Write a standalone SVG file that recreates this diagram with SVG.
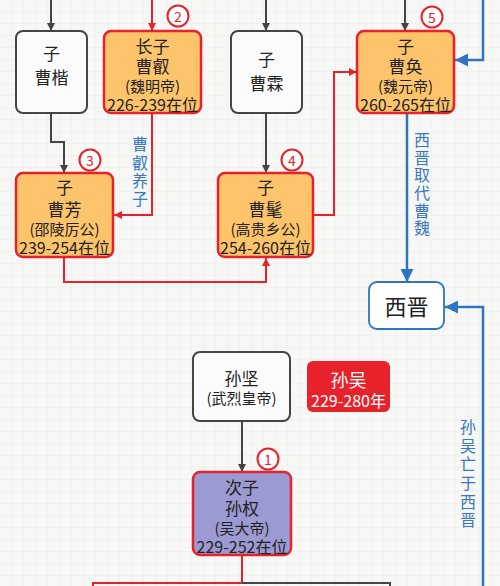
<svg xmlns="http://www.w3.org/2000/svg" width="500" height="586" viewBox="0 0 500 586">
<defs>
<pattern id="grid" width="12" height="12" patternUnits="userSpaceOnUse">
<rect width="12" height="12" fill="#f7f7f5"/>
<path d="M12,0 V12 M0,12 H12" stroke="#e9e9e6" stroke-width="0.8" fill="none"/>
</pattern>
<marker id="ag" viewBox="0 0 10 10" refX="10" refY="5" markerWidth="9" markerHeight="8" markerUnits="userSpaceOnUse" orient="auto"><path d="M0,0 L10,5 L0,10 Z" fill="#444"/></marker>
<marker id="ar" viewBox="0 0 10 10" refX="10" refY="5" markerWidth="9" markerHeight="8" markerUnits="userSpaceOnUse" orient="auto"><path d="M0,0 L10,5 L0,10 Z" fill="#e8222b"/></marker>
<marker id="ab" viewBox="0 0 10 10" refX="10" refY="5" markerWidth="14" markerHeight="13" markerUnits="userSpaceOnUse" orient="auto"><path d="M0,0 L10,5 L0,10 Z" fill="#2f74c0"/></marker>
<style>
text{font-family:"Noto Sans CJK SC","Noto Sans",sans-serif;text-anchor:middle;dominant-baseline:central;fill:#222}
.gbox{fill:#fbfbfb;stroke:#444;stroke-width:2}
.obox{fill:#fdc46b;stroke:#e8222b;stroke-width:2.5}
.pbox{fill:#9c9ad2;stroke:#e8222b;stroke-width:2.5}
.big{font-size:17px}
.sm{font-size:15px}
.yr{font-size:16px}
.num{fill:#fff;stroke:#e8222b;stroke-width:2}
.numt{font-size:14px;fill:#e8222b}
.g{fill:none;stroke:#444;stroke-width:2}
.r{fill:none;stroke:#e8222b;stroke-width:2}
.b{fill:none;stroke:#2f74c0;stroke-width:2.5}
.lbl{font-size:16px;fill:#3a78c0;writing-mode:vertical-rl}
</style>
</defs>
<rect width="500" height="586" fill="url(#grid)"/>

<g id="connectors">
<path class="g" d="M51,0 V31" marker-end="url(#ag)"/>
<path class="r" d="M152,0 V31" marker-end="url(#ar)"/>
<path class="g" d="M266,0 V31" marker-end="url(#ag)"/>
<path class="g" d="M405,0 V31" marker-end="url(#ag)"/>
<path class="b" d="M483,0 V60 H455" marker-end="url(#ab)"/>
<path class="r" d="M152,113 V215 H114" marker-end="url(#ar)"/>
<path class="g" d="M51,113 V142 H64 V173" marker-end="url(#ag)"/>
<path class="g" d="M266,113 V173" marker-end="url(#ag)"/>
<path class="r" d="M64,257 V282 H266 V258" marker-end="url(#ar)"/>
<path class="r" d="M313,215 H334 V72 H357" marker-end="url(#ar)"/>
<path class="b" d="M407,113 V282" marker-end="url(#ab)"/>
<path class="b" d="M483,586 V307 H445" marker-end="url(#ab)"/>
<path class="g" d="M242,421 V472" marker-end="url(#ag)"/>
<path class="r" d="M242,555 V583 H93 V590"/>
<path class="g" d="M242,583 H390 V590"/>
<text class="lbl" x="140" y="173" letter-spacing="2.3">曹叡养子</text>
<text class="lbl" x="422" y="185" letter-spacing="1.6">西晋取代曹魏</text>
<text class="lbl" x="468" y="475" letter-spacing="2.6">孙吴亡于西晋</text>
</g>

<g id="caokai">
<rect class="gbox" x="16" y="31" width="71" height="82" rx="7"/>
<text class="big" x="51.5" y="52">子</text>
<text class="big" x="51.5" y="76">曹楷</text>
</g>

<g id="caorui">
<rect class="obox" x="104" y="31" width="97" height="82" rx="7"/>
<text class="big" x="152.5" y="45">长子</text>
<text class="big" x="152.5" y="65">曹叡</text>
<text class="sm" x="152.5" y="85">(魏明帝)</text>
<text class="yr" x="152.5" y="104">226-239在位</text>
<circle class="num" cx="178" cy="16" r="10.5"/>
<text class="numt" x="178" y="16">2</text>
</g>

<g id="caolin">
<rect class="gbox" x="231" y="31" width="71" height="82" rx="7"/>
<text class="big" x="266.5" y="58">子</text>
<text class="big" x="266.5" y="82">曹霖</text>
</g>

<g id="caohuan">
<rect class="obox" x="357" y="31" width="97" height="82" rx="7"/>
<text class="big" x="405.5" y="45">子</text>
<text class="big" x="405.5" y="65">曹奂</text>
<text class="sm" x="405.5" y="85">(魏元帝)</text>
<text class="yr" x="405.5" y="104">260-265在位</text>
<circle class="num" cx="432" cy="17" r="10.5"/>
<text class="numt" x="432" y="17">5</text>
</g>

<g id="caofang">
<rect class="obox" x="16" y="173" width="97" height="84" rx="7"/>
<text class="big" x="64.5" y="186">子</text>
<text class="big" x="64.5" y="208">曹芳</text>
<text class="sm" x="64.5" y="228">(邵陵厉公)</text>
<text class="yr" x="64.5" y="247">239-254在位</text>
<circle class="num" cx="90" cy="160" r="10.5"/>
<text class="numt" x="90" y="160">3</text>
</g>

<g id="caomao">
<rect class="obox" x="218" y="173" width="95" height="84" rx="7"/>
<text class="big" x="265.5" y="186">子</text>
<text class="big" x="265.5" y="208">曹髦</text>
<text class="sm" x="265.5" y="228">(高贵乡公)</text>
<text class="yr" x="265.5" y="247">254-260在位</text>
<circle class="num" cx="292" cy="160" r="10.5"/>
<text class="numt" x="292" y="160">4</text>
</g>

<g id="xijin">
<rect x="369" y="282" width="75" height="47" rx="8" fill="#fff" stroke="#2f74c0" stroke-width="1.8"/>
<text x="406.5" y="305" font-size="22">西晋</text>
</g>

<g id="sunjian">
<rect class="gbox" x="193" y="352" width="97" height="69" rx="7"/>
<text class="big" x="241.5" y="377">孙坚</text>
<text class="sm" x="241.5" y="397">(武烈皇帝)</text>
</g>

<g id="sunwu">
<rect x="307" y="361" width="83" height="51" rx="6" fill="#e8222b"/>
<text x="348.5" y="379" font-size="18" style="fill:#fff">孙吴</text>
<text x="348.5" y="400" font-size="16" style="fill:#fff">229-280年</text>
</g>

<g id="sunquan">
<rect class="pbox" x="193" y="472" width="98" height="83" rx="7"/>
<text class="big" x="242" y="486">次子</text>
<text class="big" x="242" y="507">孙权</text>
<text class="sm" x="242" y="527">(吴大帝)</text>
<text class="yr" x="242" y="546">229-252在位</text>
<circle class="num" cx="268" cy="459" r="10.5"/>
<text class="numt" x="268" y="459">1</text>
</g>
</svg>
